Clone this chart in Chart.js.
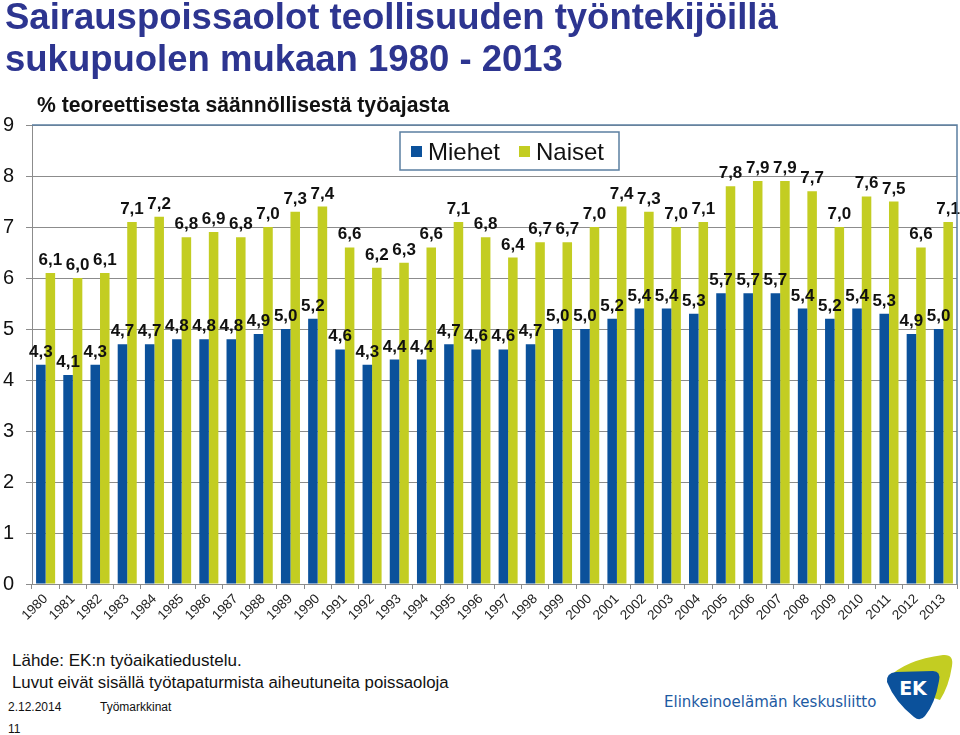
<!DOCTYPE html>
<html>
<head>
<meta charset="utf-8">
<script src="https://cdn.jsdelivr.net/npm/chart.js@4/dist/chart.umd.min.js"></script>
<style>
  html, body { margin:0; padding:0; background:#fff; }
  body { width:960px; height:735px; position:relative; overflow:hidden; font-family:"Liberation Sans", Arial, sans-serif; }
  #c { position:absolute; left:0; top:0; }
  .t { position:absolute; white-space:nowrap; }
  #title { left:5px; top:-4px; font-size:36.5px; font-weight:bold; color:#2d3590; line-height:42px; }
  #sub { left:37px; top:93px; font-size:21.2px; font-weight:bold; color:#111; }
  #src1 { left:12px; top:651px; font-size:17px; color:#111; }
  #src2 { left:12px; top:673px; font-size:16.8px; color:#111; }
  #date { left:8px; top:700px; font-size:12px; color:#111; }
  #tm { left:100px; top:700px; font-size:12px; color:#111; }
  #pg { left:8px; top:722px; font-size:12px; color:#111; }
  #ek { left:664px; top:693px; font-size:15px; color:#1d5aa2; font-family:"DejaVu Sans", sans-serif; }
  #logo { position:absolute; left:885px; top:652px; }
</style>
</head>
<body>
<canvas id="c" width="960" height="640"></canvas>
<div class="t" id="title">Sairauspoissaolot teollisuuden työntekijöillä<br>sukupuolen mukaan 1980 - 2013</div>
<div class="t" id="sub">% teoreettisesta säännöllisestä työajasta</div>
<div class="t" id="src1">Lähde: EK:n työaikatiedustelu.</div>
<div class="t" id="src2">Luvut eivät sisällä työtapaturmista aiheutuneita poissaoloja</div>
<div class="t" id="date">2.12.2014</div>
<div class="t" id="tm">Työmarkkinat</div>
<div class="t" id="pg">11</div>
<div class="t" id="ek">Elinkeinoelämän keskusliitto</div>
<svg id="logo" width="72" height="72" viewBox="0 0 72 72">
  <path d="M3 26 Q20 8 58 3 Q69 2 67 14 Q64 34 55 48 L30 40 Z" fill="#c3cd22"/>
  <path d="M2 30 Q1 21 11 20 L48 19 Q56 19 54 29 Q50 52 40 64 Q35 70 29 65 Q10 50 2 30 Z" fill="#0b519b"/>
  <text x="28" y="43" font-family="DejaVu Sans, sans-serif" font-size="19" font-weight="bold" fill="#fff" text-anchor="middle">EK</text>
</svg>
<script>
const years = ["1980","1981","1982","1983","1984","1985","1986","1987","1988","1989","1990","1991","1992","1993","1994","1995","1996","1997","1998","1999","2000","2001","2002","2003","2004","2005","2006","2007","2008","2009","2010","2011","2012","2013"];
const miehet = [4.3,4.1,4.3,4.7,4.7,4.8,4.8,4.8,4.9,5.0,5.2,4.6,4.3,4.4,4.4,4.7,4.6,4.6,4.7,5.0,5.0,5.2,5.4,5.4,5.3,5.7,5.7,5.7,5.4,5.2,5.4,5.3,4.9,5.0];
const naiset = [6.1,6.0,6.1,7.1,7.2,6.8,6.9,6.8,7.0,7.3,7.4,6.6,6.2,6.3,6.6,7.1,6.8,6.4,6.7,6.7,7.0,7.4,7.3,7.0,7.1,7.8,7.9,7.9,7.7,7.0,7.6,7.5,6.6,7.1];
const seriesNames = ["Miehet","Naiset"];
const yTicks = [0,1,2,3,4,5,6,7,8,9];

const FONT = '"Liberation Sans", Arial, sans-serif';
const BLUE = '#0b519b';
const GREEN = '#c3cd22';
const FRAME = '#5b7fa1';
const GRID = '#8c8c8c';

const labelPlugin = {
  id: 'vlabels',
  afterDatasetsDraw(chart) {
    const ctx = chart.ctx;
    ctx.save();
    ctx.font = 'bold 17px ' + FONT;
    ctx.fillStyle = '#111';
    ctx.textAlign = 'center';
    ctx.textBaseline = 'alphabetic';
    chart.data.datasets.forEach((ds, i) => {
      chart.getDatasetMeta(i).data.forEach((el, j) => {
        const txt = ds.data[j].toFixed(1).replace('.', ',');
        ctx.fillText(txt, el.x, el.y - 8);
      });
    });
    ctx.restore();
  }
};

const framePlugin = {
  id: 'frame',
  afterDraw(chart) {
    const ctx = chart.ctx, a = chart.chartArea;
    ctx.save();
    ctx.strokeStyle = FRAME;
    ctx.lineWidth = 1.5;
    ctx.beginPath();
    ctx.moveTo(a.left, a.top);
    ctx.lineTo(a.right, a.top);
    ctx.lineTo(a.right, a.bottom);
    ctx.stroke();
    const lx = 400, ly = 132, lw = 219, lh = 38;
    ctx.fillStyle = '#fff';
    ctx.fillRect(lx, ly, lw, lh);
    ctx.lineWidth = 1.5;
    ctx.strokeRect(lx, ly, lw, lh);
    ctx.font = '24px ' + FONT;
    ctx.textBaseline = 'alphabetic';
    ctx.textAlign = 'left';
    const items = [[411, 428, BLUE], [519, 536, GREEN]];
    items.forEach((it, k) => {
      ctx.fillStyle = it[2];
      ctx.fillRect(it[0], 146, 11, 11);
      ctx.fillStyle = '#111';
      ctx.fillText(seriesNames[k], it[1], 160);
    });
    ctx.restore();
  }
};

new Chart(document.getElementById('c'), {
  type: 'bar',
  data: {
    labels: years,
    datasets: [
      { label: seriesNames[0], data: miehet, backgroundColor: BLUE, categoryPercentage: 0.70, barPercentage: 1.0 },
      { label: seriesNames[1], data: naiset, backgroundColor: GREEN, categoryPercentage: 0.70, barPercentage: 1.0 }
    ]
  },
  options: {
    responsive: false,
    devicePixelRatio: 1,
    animation: false,
    layout: { padding: { top: 125, right: 3, left: 0, bottom: 0 } },
    plugins: { legend: { display: false }, title: { display: false }, tooltip: { enabled: false } },
    scales: {
      x: {
        offset: true,
        grid: { offset: true, drawOnChartArea: false, tickLength: 5, color: GRID },
        border: { color: GRID },
        ticks: { autoSkip: false, minRotation: 45, maxRotation: 45, padding: 2, color: '#222', font: { family: FONT, size: 13.5 } },
        afterFit(s) { s.height = 56; }
      },
      y: {
        min: 0, max: 9,
        afterBuildTicks(s) { s.ticks = yTicks.map(v => ({ value: v })); },
        grid: { color: GRID, tickLength: 6 },
        border: { color: GRID },
        ticks: { padding: 12, color: '#111', font: { family: FONT, size: 20 } },
        afterFit(s) { s.width = 32; }
      }
    }
  },
  plugins: [labelPlugin, framePlugin]
});
</script>
</body>
</html>
